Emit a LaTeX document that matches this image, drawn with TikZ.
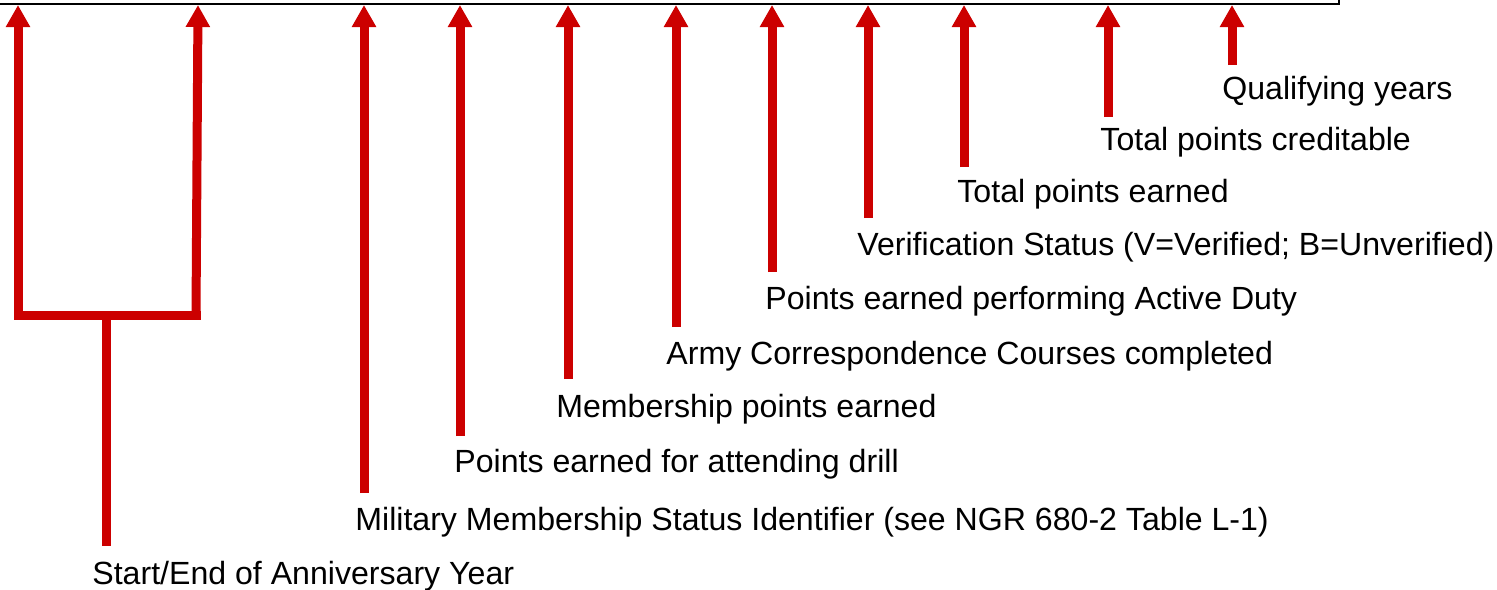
\documentclass[tikz,border=0pt]{standalone}
\usepackage{fontspec}
\setmainfont{Liberation Sans}
\usetikzlibrary{arrows.meta}

\definecolor{arrowred}{RGB}{204,0,0}

\begin{document}
\begin{tikzpicture}[x=0.5pt,y=-0.5pt,
	pointer/.style={draw=arrowred,line width=4.5pt,-{Triangle[width=11.5pt,length=11pt]}},
	bracket/.style={draw=arrowred,line width=4.5pt},
	caption/.style={anchor=base west,inner sep=0pt,font=\fontsize{16.05}{19}\selectfont}]
	
	\useasboundingbox (0,0) rectangle (1497,589);
	
	% spodní okraj tabulky
	\coordinate (frameL) at (0,4);
	\coordinate (frameC) at (1339,4);
	\coordinate (frameR) at (1339,0);
	\draw[line width=1.2pt] (frameL) -- (frameC) -- (frameR);
	
	% hroty šipek na okraji
	\coordinate (tStart) at (18,5);
	\coordinate (tEnd) at (198,5);
	\coordinate (tMMSI) at (364,5);
	\coordinate (tDrill) at (460,5);
	\coordinate (tMember) at (568,5);
	\coordinate (tCourse) at (676,5);
	\coordinate (tDuty) at (772,5);
	\coordinate (tVerif) at (868,5);
	\coordinate (tEarned) at (964,5);
	\coordinate (tCredit) at (1108,5);
	\coordinate (tQual) at (1232,5);
	
	% konce šipek
	\coordinate (bStart) at (18,315);
	\coordinate (bEnd) at (196,315);
	\coordinate (bStem) at (106,315);
	\coordinate (bYear) at (106,546);
	\coordinate (bMMSI) at (364,493);
	\coordinate (bDrill) at (460,436);
	\coordinate (bMember) at (568,379);
	\coordinate (bCourse) at (676,327);
	\coordinate (bDuty) at (772,272);
	\coordinate (bVerif) at (868,218);
	\coordinate (bEarned) at (964,167);
	\coordinate (bCredit) at (1108,117);
	\coordinate (bQual) at (1232,65);
	
	% popisky
	\node[caption] (Year) at (92,584) {Start/End of Anniversary Year};
	\node[caption] (MMSI) at (355,530) {Military Membership Status Identifier (see NGR 680-2 Table L-1)};
	\node[caption] (Drill) at (454,472) {Points earned for attending drill};
	\node[caption] (Member) at (556,417) {Membership points earned};
	\node[caption] (Course) at (666,364) {Army Correspondence Courses completed};
	\node[caption] (Duty) at (765,309) {Points earned performing Active Duty};
	\node[caption] (Verif) at (857,255) {Verification Status (V=Verified; B=Unverified)};
	\node[caption] (Earned) at (957,202) {Total points earned};
	\node[caption] (Credit) at (1100,150) {Total points creditable};
	\node[caption] (Qual) at (1222,99) {Qualifying years};
	
	% závorka pro začátek a konec roku
	\draw[pointer] (bStart) -- (tStart);
	\draw[pointer] (bEnd) -- (tEnd);
	\draw[bracket,line cap=rect] (bStart) -- (bEnd);
	\draw[bracket] (bStem) -- (bYear);
	
	% ostatní šipky
	\draw[pointer] (bMMSI) -- (tMMSI);
	\draw[pointer] (bDrill) -- (tDrill);
	\draw[pointer] (bMember) -- (tMember);
	\draw[pointer] (bCourse) -- (tCourse);
	\draw[pointer] (bDuty) -- (tDuty);
	\draw[pointer] (bVerif) -- (tVerif);
	\draw[pointer] (bEarned) -- (tEarned);
	\draw[pointer] (bCredit) -- (tCredit);
	\draw[pointer] (bQual) -- (tQual);
	
\end{tikzpicture}
\end{document}
